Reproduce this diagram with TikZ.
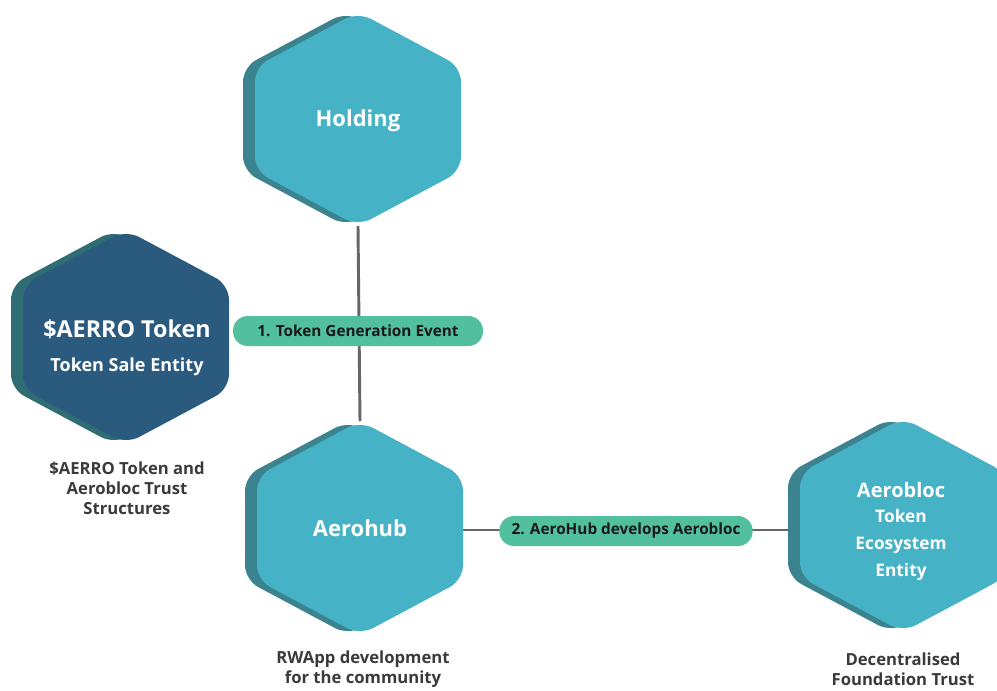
\documentclass[tikz,border=0pt]{standalone}
\usepackage{fontspec}
\setmainfont{Open Sans}
\usepackage{tikz}
\usetikzlibrary{positioning}

\definecolor{hexteal}{HTML}{46B2C5}
\definecolor{hextealside}{HTML}{3C8390}
\definecolor{hexnavy}{HTML}{2B5A7F}
\definecolor{hexnavyside}{HTML}{2F6C74}
\definecolor{pillgreen}{HTML}{52BF9F}
\definecolor{linkgrey}{HTML}{666666}
\definecolor{captiongrey}{HTML}{3A3A3A}

\pgfdeclarelayer{background}
\pgfsetlayers{background,main}

% one flattened hexagon with its darker side, plus named vertices
\newcommand{\hexcell}[4]{%
  \begin{scope}[shift={#2}]
    \fill[#4, rounded corners=11pt] (-12,-107) -- (91,-52) -- (91,52) -- (-12,107) -- (-115,52) -- (-115,-52) -- cycle;
    \fill[#3, rounded corners=11pt] (0,-107) -- (103,-52) -- (103,52) -- (0,107) -- (-103,52) -- (-103,-52) -- cycle;
    \coordinate (#1-n) at (0,-107);
    \coordinate (#1-s) at (0,107);
    \coordinate (#1-e) at (103,0);
    \coordinate (#1-w) at (-103,0);
  \end{scope}
}

\tikzset{
  hexlabel/.style={text=white, font=\bfseries, align=center},
  pill/.style={fill=pillgreen, rounded corners=11pt, minimum height=22.5pt, text=black!90, font=\bfseries\fontsize{11.5}{13}\selectfont},
  caption/.style={text=captiongrey, font=\bfseries\fontsize{12.5}{15}\selectfont, align=center},
  link/.style={draw=linkgrey, line width=2.2pt},
}

\begin{document}
\begin{tikzpicture}[x=0.75pt, y=-0.75pt]
  \useasboundingbox (0,0) rectangle (997,690);

  \hexcell{hold}{(358,119)}{hexteal}{hextealside}
  \hexcell{tok}{(126,337)}{hexnavy}{hexnavyside}
  \hexcell{hub}{(360,528)}{hexteal}{hextealside}
  \hexcell{bloc}{(903,525)}{hexteal}{hextealside}

  \node[hexlabel, font=\bfseries\fontsize{16.5}{20}\selectfont] (holding) at (358,121) {Holding};
  \node[hexlabel, font=\bfseries\fontsize{16.5}{20}\selectfont] (aerohub) at (360,528) {Aerohub};
  \node[hexlabel, font=\bfseries\fontsize{17.5}{20}\selectfont] (aerro) at (127,329) {\$AERRO Token};
  \node[hexlabel, font=\bfseries\fontsize{13.5}{16}\selectfont] (sale) at (127,367) {Token Sale Entity};
  \node[hexlabel, font=\bfseries\fontsize{15}{20}\selectfont] (aerobloc) at (901,490) {Aerobloc};
  \node[hexlabel, font=\bfseries\fontsize{13}{20}\selectfont] (ecosys) at (901,545) {Token\\ Ecosystem\\ Entity};

  \begin{pgfonlayer}{background}
    \draw[link] (hold-s) -- (hub-n);
    \draw[link] (hub-e |- 0,530) -- (bloc-w |- 0,530);
  \end{pgfonlayer}

  \node[pill, minimum width=187.5pt] (tge) at (358,331) {1. Token Generation Event};
  \node[pill, minimum width=190pt] (dev) at (626,531) {2. AeroHub develops Aerobloc};

  \node[caption] (trust) at (127,488) {\$AERRO Token and\\ Aerobloc Trust\\ Structures};
  \node[caption] (rwapp) at (363,669) {RWApp development\\ for the community};
  \node[caption] (found) at (903,669) {Decentralised\\ Foundation Trust};
\end{tikzpicture}
\end{document}
